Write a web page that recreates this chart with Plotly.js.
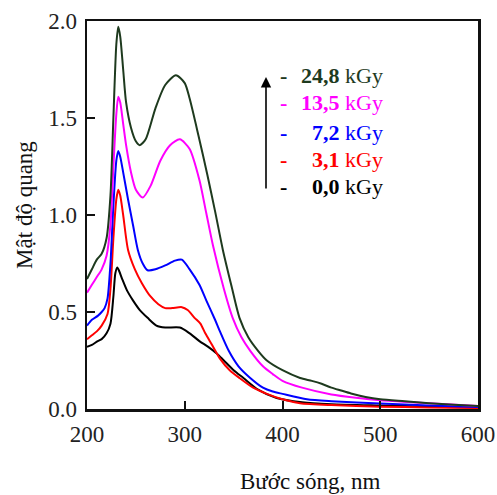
<!DOCTYPE html>
<html>
<head>
<meta charset="utf-8">
<script src="https://cdn.plot.ly/plotly-3.0.1.min.js"></script>
<style>html,body{margin:0;padding:0;background:#fff;}#chart{width:497px;height:495px;}</style>
</head>
<body>
<div id="chart"></div>
<script>
// Wavelengths (nm) and optical density for each dose
const wl_248 = [200,205,210,215,220,224,227,230,232,234,237,240,245,250,254,260,270,280,291,300,305,314,323,331,339,348,356,365,375,384,400,418,430,440,450,460,470,485,500,525,550,575,600];
const od_248 = [0.67,0.72,0.77,0.80,0.88,1.10,1.50,1.88,1.97,1.92,1.75,1.58,1.45,1.38,1.36,1.39,1.55,1.67,1.72,1.68,1.60,1.41,1.21,1.02,0.82,0.63,0.47,0.37,0.30,0.25,0.20,0.16,0.145,0.13,0.11,0.095,0.08,0.062,0.05,0.04,0.03,0.022,0.015];

const wl_135 = [200,205,210,215,220,224,227,230,232,234,237,240,245,250,257,265,275,285,295,305,315,322,329,340,349,358,367,380,390,400,420,450,475,500,550,600];
const od_135 = [0.60,0.64,0.68,0.72,0.79,0.95,1.25,1.52,1.61,1.58,1.47,1.36,1.22,1.13,1.09,1.15,1.28,1.36,1.39,1.34,1.18,1.01,0.84,0.62,0.47,0.37,0.30,0.22,0.18,0.145,0.11,0.075,0.058,0.045,0.03,0.015];

const wl_72 = [200,205,211,215,218,221,224,227,230,232,234,237,242,247,252,257,262,270,280,290,297,305,315,322,331,336,345,355,367,380,390,400,425,450,500,550,600];
const od_72 = [0.43,0.46,0.48,0.50,0.52,0.57,0.75,1.05,1.28,1.33,1.30,1.22,1.08,0.95,0.82,0.75,0.715,0.72,0.74,0.765,0.77,0.72,0.64,0.56,0.46,0.40,0.30,0.22,0.16,0.11,0.09,0.078,0.05,0.04,0.028,0.018,0.01];

const wl_31 = [200,205,210,215,221,224,227,230,232,234,237,242,249,256,265,273,280,287,297,303,310,316,321,328,336,346,356,370,384,400,418,450,500,550,600];
const od_31 = [0.36,0.38,0.40,0.43,0.49,0.62,0.88,1.08,1.13,1.10,1.00,0.82,0.72,0.65,0.58,0.54,0.52,0.52,0.525,0.51,0.47,0.44,0.39,0.33,0.26,0.20,0.16,0.11,0.078,0.05,0.03,0.02,0.012,0.008,0.005];

const wl_00 = [200,205,211,215,220,224,227,229,231,233,236,241,247,254,262,271,280,295,305,315,324,333,340,350,360,375,394,420,450,500,550,600];
const od_00 = [0.32,0.33,0.35,0.36,0.39,0.44,0.58,0.70,0.73,0.71,0.67,0.61,0.56,0.51,0.47,0.43,0.42,0.42,0.39,0.35,0.32,0.285,0.25,0.20,0.16,0.10,0.057,0.035,0.025,0.018,0.012,0.008];

const doseLabels = ['24,8','13,5','7,2','3,1','0,0'];
const doseColors = ['#1e3a1e','#ff00ff','#0000ff','#ff0000','#000000'];
const xTicks = [200,300,400,500,600];
const yTicks = [0.0,0.5,1.0,1.5,2.0];

const series = [[wl_248,od_248],[wl_135,od_135],[wl_72,od_72],[wl_31,od_31],[wl_00,od_00]];
const order = [4,3,2,1,0];
const traces = order.map(i => ({
  x: series[i][0], y: series[i][1], type: 'scatter', mode: 'lines',
  line: {color: doseColors[i], width: 2, shape: 'spline', smoothing: 0.7},
  showlegend: false, hoverinfo: 'skip'
}));

const serif = 'Liberation Serif, Times New Roman, serif';
const rowY = [0.8608, 0.7887, 0.7139, 0.6418, 0.5722];
const annotations = [];
doseLabels.forEach((lab, i) => {
  annotations.push({xref:'paper', yref:'paper', x:0.5013, y:rowY[i], xanchor:'center', yanchor:'middle',
    text:'<b>-</b>', showarrow:false, font:{family:serif, size:22, color:doseColors[i]}});
  annotations.push({xref:'paper', yref:'paper', x:0.7621, y:rowY[i], xanchor:'right', yanchor:'middle',
    text:'<b>'+lab+'</b> kGy', showarrow:false, font:{family:serif, size:22, color:doseColors[i]}});
});
annotations.push({xref:'paper', yref:'paper', x:0.4578, y:0.8557, text:'', showarrow:true,
  ax:0, ay:113, axref:'pixel', ayref:'pixel', arrowhead:2, arrowsize:1.3, arrowwidth:1.6, arrowcolor:'#000'});
annotations.push({xref:'paper', yref:'paper', x:0.570, y:-0.188, xanchor:'center', yanchor:'middle',
  text:'Bước sóng, nm', showarrow:false, font:{family:serif, size:23, color:'#111'}});
annotations.push({xref:'paper', yref:'paper', x:-0.1586, y:0.526, xanchor:'center', yanchor:'middle',
  text:'Mật độ quang', textangle:-90, showarrow:false, font:{family:serif, size:23, color:'#111'}});

const layout = {
  width: 497, height: 495,
  margin: {l: 87, r: 19, t: 21, b: 86, pad: 0},
  paper_bgcolor: '#fff', plot_bgcolor: '#fff',
  xaxis: {range:[200,600], tickvals:xTicks, ticktext:xTicks.map(String), ticks:'inside', ticklen:8, tickwidth:2,
    tickcolor:'#111', showline:true, linewidth:2.5, linecolor:'#111', mirror:true, showgrid:false, zeroline:false,
    tickfont:{family:serif, size:23, color:'#222'}, ticklabelstandoff:3},
  yaxis: {range:[0,2.0], tickvals:yTicks, ticktext:yTicks.map(v=>v.toFixed(1)), ticks:'inside', ticklen:8, tickwidth:2,
    tickcolor:'#111', showline:true, linewidth:2.5, linecolor:'#111', mirror:true, showgrid:false, zeroline:false,
    tickfont:{family:serif, size:23, color:'#222'}, ticklabelstandoff:3},
  annotations: annotations
};

Plotly.newPlot('chart', traces, layout, {staticPlot:true, displayModeBar:false});
</script>
</body>
</html>
